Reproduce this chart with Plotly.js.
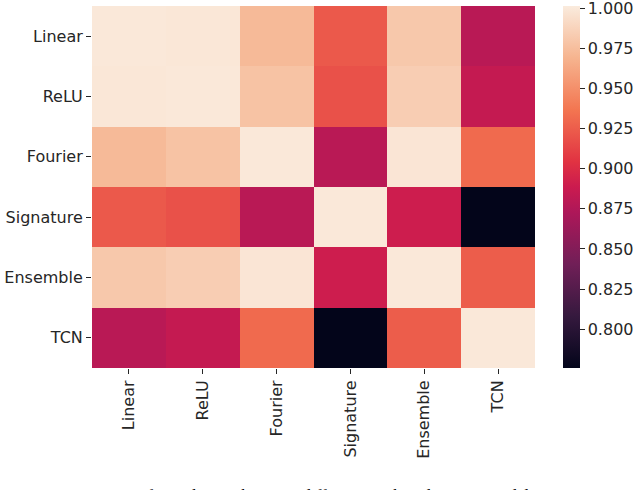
<!DOCTYPE html>
<html>
<head>
<meta charset="utf-8">
<script src="https://cdn.plot.ly/plotly-3.0.1.min.js"></script>
<style>html,body{margin:0;padding:0;background:#fff;}#chart{width:640px;height:490px;}</style>
</head>
<body>
<div id="chart"></div>
<script>
const labels = ['Linear', 'ReLU', 'Fourier', 'Signature', 'Ensemble', 'TCN'];
const rowLinear    = [1.000, 0.999, 0.973, 0.923, 0.981, 0.879];
const rowReLU      = [0.999, 1.000, 0.978, 0.919, 0.984, 0.885];
const rowFourier   = [0.973, 0.978, 1.000, 0.879, 0.998, 0.931];
const rowSignature = [0.923, 0.919, 0.879, 1.000, 0.890, 0.776];
const rowEnsemble  = [0.981, 0.984, 0.998, 0.890, 1.000, 0.925];
const rowTCN       = [0.879, 0.885, 0.931, 0.776, 0.925, 1.000];
const colorbarTicks = [0.800, 0.825, 0.850, 0.875, 0.900, 0.925, 0.950, 0.975, 1.000];
const caption = 'Figure 1: Heatmap of correlations between different machine learning models';

const zmin = 0.7758, zmax = 1.0015;
const rocket = [
  [0.0, '#03051a'], [0.143, '#35193e'], [0.286, '#701f57'], [0.429, '#ad1759'],
  [0.5, '#cb1b4f'], [0.571, '#e13342'], [0.714, '#f37651'], [0.857, '#f6b48f'], [1.0, '#faebdd']
];

const font = {family: 'DejaVu Sans', size: 16, color: '#262626'};

const trace = {
  type: 'heatmap',
  x: labels,
  y: labels,
  z: [rowLinear, rowReLU, rowFourier, rowSignature, rowEnsemble, rowTCN],
  zmin: zmin, zmax: zmax,
  colorscale: rocket,
  xgap: 0, ygap: 0,
  hoverinfo: 'skip',
  colorbar: {
    x: (566 - 92) / 446, xanchor: 'left', xref: 'paper',
    y: 0.5, yanchor: 'middle',
    len: 1, lenmode: 'fraction',
    thickness: 17, thicknessmode: 'pixels',
    outlinewidth: 0, xpad: 0, ypad: 0,
    tickmode: 'array',
    tickvals: colorbarTicks,
    ticktext: colorbarTicks.map(v => v.toFixed(3)),
    ticks: 'outside', ticklen: 5, tickwidth: 1, tickcolor: '#262626',
    ticklabeloverflow: 'allow',
    tickfont: font
  }
};

const layout = {
  width: 640, height: 490,
  margin: {l: 92, r: 102, t: 6, b: 122},
  paper_bgcolor: '#fff', plot_bgcolor: '#fff',
  font: font,
  xaxis: {
    type: 'category', tickangle: -90, ticks: 'outside', ticklen: 5, tickwidth: 1,
    tickcolor: '#262626', showgrid: false, zeroline: false, showline: false,
    tickfont: font, automargin: false
  },
  yaxis: {
    type: 'category', autorange: 'reversed', ticks: 'outside', ticklen: 5, tickwidth: 1,
    tickcolor: '#262626', showgrid: false, zeroline: false, showline: false,
    tickfont: font, automargin: false
  },
  annotations: [{
    text: caption, xref: 'paper', yref: 'paper',
    x: (4 - 92) / 446, y: (368 - 484) / 362, xanchor: 'left', yanchor: 'top',
    showarrow: false, font: {family: 'Liberation Serif', size: 17, color: '#000'}
  }]
};

Plotly.newPlot('chart', [trace], layout, {displayModeBar: false, staticPlot: true});
</script>
</body>
</html>
